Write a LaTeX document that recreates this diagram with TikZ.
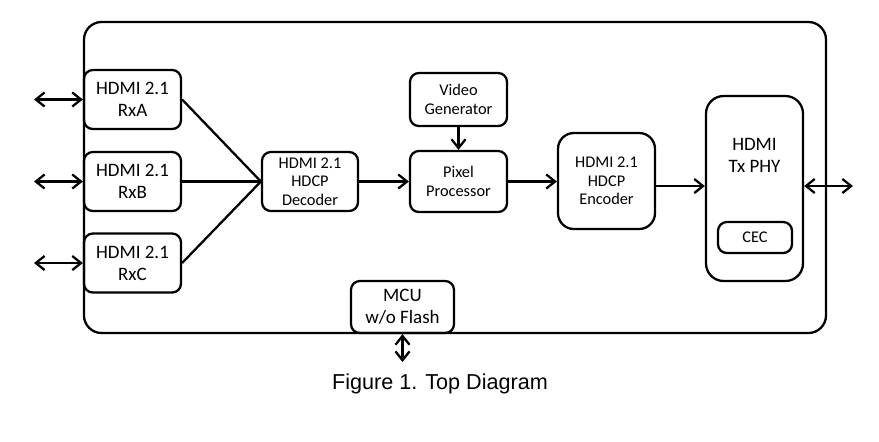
\documentclass[tikz,border=0pt]{standalone}
\usepackage{fontspec}
\setmainfont{Carlito}
\newfontfamily\captionfont{Liberation Sans}
\usetikzlibrary{arrows.meta}

\begin{document}
\begin{tikzpicture}[x=0.02cm, y=-0.02cm, line width=1.3pt,
    blk/.style={draw, rounded corners=5pt, align=center, inner sep=0pt},
    bigtxt/.style={font=\fontsize{10.8}{12.5}\selectfont},
    smalltxt/.style={font=\fontsize{9.3}{10.6}\selectfont},
    >={Straight Barb[length=5pt, width=8pt]}]
    \useasboundingbox (0, 0) rectangle (879, 441);

    \draw[rounded corners=10pt] (84, 22) rectangle (826, 333);

    \node[blk, bigtxt, minimum width=1.94cm, minimum height=1.18cm] (rxa) at (132.5, 99.5) {HDMI 2.1\\RxA};
    \node[blk, bigtxt, minimum width=1.94cm, minimum height=1.18cm] (rxb) at (132.5, 181.5) {HDMI 2.1\\RxB};
    \node[blk, bigtxt, minimum width=1.94cm, minimum height=1.18cm] (rxc) at (132.5, 263) {HDMI 2.1\\RxC};

    \node[blk, smalltxt, minimum width=1.92cm, minimum height=1.18cm] (dec) at (310, 181.5) {HDMI 2.1\\HDCP\\Decoder};
    \node[blk, smalltxt, minimum width=1.94cm, minimum height=1.06cm] (vgen) at (458.5, 99.5) {Video\\Generator};
    \node[blk, smalltxt, minimum width=1.94cm, minimum height=1.22cm] (pix) at (458.5, 181.5) {Pixel\\Processor};
    \node[blk, smalltxt, minimum width=1.94cm, minimum height=1.92cm, rounded corners=9pt] (enc) at (606.5, 181) {HDMI 2.1\\HDCP\\Encoder};

    \node[blk, minimum width=1.94cm, minimum height=3.7cm, rounded corners=10pt] (tx) at (754.5, 188.5) {};
    \node[bigtxt, align=center] (txlbl) at (754.5, 155) {HDMI\\Tx PHY};
    \node[blk, smalltxt, minimum width=1.48cm, minimum height=0.62cm] (cec) at (755, 237.5) {CEC};

    \node[blk, bigtxt, minimum width=2.06cm, minimum height=1.04cm] (mcu) at (402.5, 307) {MCU\\w/o Flash};

    \coordinate (pa) at (34, 99.5);
    \coordinate (pb) at (34, 181.5);
    \coordinate (pc) at (34, 263);
    \coordinate (txport) at (853, 186);
    \coordinate (mcuport) at (402.5, 362);

    \draw[<->] (pa) -- (rxa);
    \draw[<->] (pb) -- (rxb);
    \draw[<->] (pc) -- (rxc);

    \draw (rxa.east) -- (dec.west);
    \draw (rxb.east) -- (dec.west);
    \draw (rxc.east) -- (dec.west);

    \draw[->] (dec) -- (pix);
    \draw[->] (vgen) -- (pix);
    \draw[->] (pix.east) -- (pix.east -| enc.west);
    \draw[->] (enc.east |- txport) -- (tx.west |- txport);
    \draw[<->] (tx.east |- txport) -- (txport);
    \draw[<->] (mcu.south) -- (mcuport);

    \node[font=\captionfont\fontsize{12.3}{14}\selectfont] (cap) at (440, 384) {Figure 1. Top Diagram};
\end{tikzpicture}
\end{document}
